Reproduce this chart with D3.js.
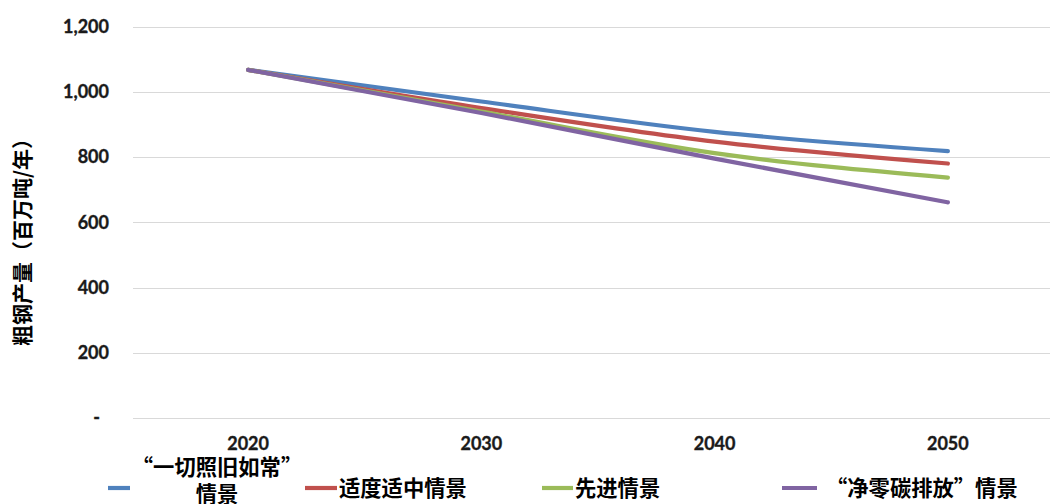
<!DOCTYPE html>
<html>
<head>
<meta charset="utf-8">
<script src="https://cdn.jsdelivr.net/npm/d3@7"></script>
<style>
  html, body { margin: 0; padding: 0; background: #fff; }
  svg { display: block; }
</style>
</head>
<body>
<svg id="chart" width="1050" height="504"></svg>
<script>
// Crude steel output scenarios, million tonnes per year
const years = ["2020", "2030", "2040", "2050"];
const businessAsUsual = [1067, 970, 877, 818];
const moderate = [1067, 950, 847, 780];
const advanced = [1067, 939, 812, 737];
const netZero = [1067, 935, 795, 661];
const yTicks = [0, 200, 400, 600, 800, 1000, 1200];
const seriesNames = ["“一切照旧如常”情景", "适度适中情景", "先进情景", "“净零碳排放”情景"];
const seriesColors = ["#4F81BD", "#C0504D", "#9BBB59", "#8064A2"];
const yTitle = "粗钢产量（百万吨/年）";

const series = [businessAsUsual, moderate, advanced, netZero].map((values, i) => ({
  name: seriesNames[i],
  color: seriesColors[i],
  values: values.map((v, j) => ({ year: years[j], value: v }))
}));

const svg = d3.select("#chart");
const latin = "Lato, 'Open Sans', 'Liberation Sans', sans-serif";
const cjk = "'Noto Sans CJK SC', 'Noto Sans', sans-serif";
const ink = "#1a1a1a";

const plot = { left: 131.5, right: 1064.5, top: 26.5, bottom: 418 };

const x = d3.scaleBand().domain(years).range([plot.left, plot.right]);
const y = d3.scaleLinear().domain([0, 1200]).range([plot.bottom, plot.top]);

// Horizontal gridlines
svg.append("g")
  .selectAll("line")
  .data(yTicks)
  .join("line")
  .attr("x1", plot.left + 1.5)
  .attr("x2", plot.right)
  .attr("y1", d => Math.round(y(d)) + 0.5)
  .attr("y2", d => Math.round(y(d)) + 0.5)
  .attr("stroke", "#d9d9d9")
  .attr("stroke-width", 1.2);

// Y axis labels (zero shown as an accounting dash)
const fmt = d3.format(",");
svg.append("g")
  .selectAll("text")
  .data(yTicks)
  .join("text")
  .attr("x", d => d === 0 ? 100 : 109)
  .attr("y", d => y(d))
  .attr("dy", "0.36em")
  .attr("text-anchor", "end")
  .attr("font-family", latin)
  .attr("font-weight", "bold")
  .attr("font-size", 18)
  .attr("fill", ink)
  .attr("stroke", ink)
  .attr("stroke-width", 0.35)
  .text(d => d === 0 ? "-" : fmt(d));

// X axis labels
svg.append("g")
  .selectAll("text")
  .data(years)
  .join("text")
  .attr("x", d => x(d) + x.bandwidth() / 2)
  .attr("y", 450)
  .attr("text-anchor", "middle")
  .attr("font-family", latin)
  .attr("font-weight", "bold")
  .attr("font-size", 18)
  .attr("fill", ink)
  .attr("stroke", ink)
  .attr("stroke-width", 0.35)
  .text(d => d);

// Y axis title
svg.append("text")
  .attr("transform", "translate(30,237) rotate(-90)")
  .attr("text-anchor", "middle")
  .attr("font-family", cjk)
  .attr("font-weight", "bold")
  .attr("font-size", 21)
  .attr("fill", "#000")
  .text(yTitle);

// Scenario lines
const line = d3.line()
  .x(d => x(d.year) + x.bandwidth() / 2)
  .y(d => y(d.value))
  .curve(d3.curveMonotoneX);

svg.append("g")
  .selectAll("path")
  .data(series)
  .join("path")
  .attr("d", d => line(d.values))
  .attr("fill", "none")
  .attr("stroke", d => d.color)
  .attr("stroke-width", 4.2)
  .attr("stroke-linecap", "round")
  .attr("stroke-linejoin", "round");

// Legend
const legendItems = [
  { x1: 108, x2: 130, tx: 217, lines: ["“一切照旧如常”", "情景"], anchor: "middle" },
  { x1: 305, x2: 337, tx: 339, lines: [seriesNames[1]], anchor: "start" },
  { x1: 542, x2: 573, tx: 575, lines: [seriesNames[2]], anchor: "start" },
  { x1: 782, x2: 817, tx: 826, lines: [seriesNames[3]], anchor: "start" }
];
const legendY = 488;
const legend = svg.append("g");
legendItems.forEach((item, i) => {
  legend.append("line")
    .attr("x1", item.x1).attr("x2", item.x2)
    .attr("y1", legendY).attr("y2", legendY)
    .attr("stroke", seriesColors[i])
    .attr("stroke-width", 4.2);
  const t = legend.append("text")
    .attr("text-anchor", item.anchor)
    .attr("font-family", cjk)
    .attr("font-weight", "bold")
    .attr("font-size", 21.3)
    .attr("fill", "#000");
  if (item.lines.length === 1) {
    t.append("tspan").attr("x", item.tx).attr("y", legendY).attr("dy", "0.36em").text(item.lines[0]);
  } else {
    item.lines.forEach((s, k) => {
      t.append("tspan").attr("x", item.tx).attr("y", 467 + k * 27).attr("dy", "0.36em").text(s);
    });
  }
});
</script>
</body>
</html>
